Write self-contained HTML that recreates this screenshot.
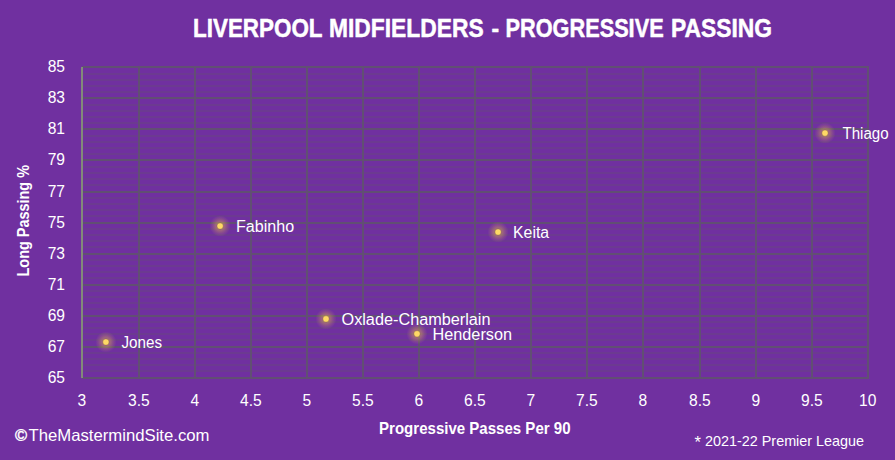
<!DOCTYPE html><html><head><meta charset="utf-8"><style>html,body{margin:0;padding:0;background:#7030A0;width:895px;height:460px;overflow:hidden}svg{display:block}text{font-family:"Liberation Sans",sans-serif;fill:#fff}</style></head><body>
<svg width="895" height="460" viewBox="0 0 895 460">
<defs><radialGradient id="g"><stop offset="0" stop-color="#d8a850" stop-opacity="0.6"/><stop offset="0.45" stop-color="#d0a058" stop-opacity="0.45"/><stop offset="0.75" stop-color="#c89060" stop-opacity="0.2"/><stop offset="1" stop-color="#c09070" stop-opacity="0"/></radialGradient></defs>
<rect width="895" height="460" fill="#7030A0"/>
<path d="M82 73h787v2h-787zM82 79h787v2h-787zM82 85h787v2h-787zM82 91h787v2h-787zM82 104h787v2h-787zM82 110h787v2h-787zM82 116h787v2h-787zM82 122h787v2h-787zM82 135h787v2h-787zM82 141h787v2h-787zM82 147h787v2h-787zM82 153h787v2h-787zM82 166h787v2h-787zM82 172h787v2h-787zM82 178h787v2h-787zM82 184h787v2h-787zM82 197h787v2h-787zM82 203h787v2h-787zM82 209h787v2h-787zM82 215h787v2h-787zM82 228h787v2h-787zM82 234h787v2h-787zM82 240h787v2h-787zM82 246h787v2h-787zM82 259h787v2h-787zM82 265h787v2h-787zM82 271h787v2h-787zM82 277h787v2h-787zM82 290h787v2h-787zM82 296h787v2h-787zM82 302h787v2h-787zM82 308h787v2h-787zM82 321h787v2h-787zM82 327h787v2h-787zM82 333h787v2h-787zM82 339h787v2h-787zM82 352h787v2h-787zM82 358h787v2h-787zM82 364h787v2h-787zM82 370h787v2h-787z" fill="rgb(108,58,145)"/>
<path d="M82 66h787v2h-787zM82 97h787v2h-787zM82 128h787v2h-787zM82 159h787v2h-787zM82 191h787v2h-787zM82 222h787v2h-787zM82 253h787v2h-787zM82 284h787v2h-787zM82 315h787v2h-787zM82 346h787v2h-787zM82 377h787v2h-787zM138 66h2v313h-2zM194 66h2v313h-2zM250 66h2v313h-2zM306 66h2v313h-2zM362 66h2v313h-2zM418 66h2v313h-2zM474 66h2v313h-2zM530 66h2v313h-2zM586 66h2v313h-2zM642 66h2v313h-2zM699 66h2v313h-2zM755 66h2v313h-2zM811 66h2v313h-2zM867 66h2v313h-2z" fill="rgb(97,79,115)"/>
<rect x="81" y="67" width="2" height="311" fill="rgb(131,138,122)"/>
<text x="65" y="71.9" font-size="15.6" text-anchor="end">85</text>
<text x="65" y="102.9" font-size="15.6" text-anchor="end">83</text>
<text x="65" y="133.9" font-size="15.6" text-anchor="end">81</text>
<text x="65" y="164.9" font-size="15.6" text-anchor="end">79</text>
<text x="65" y="196.9" font-size="15.6" text-anchor="end">77</text>
<text x="65" y="227.9" font-size="15.6" text-anchor="end">75</text>
<text x="65" y="258.9" font-size="15.6" text-anchor="end">73</text>
<text x="65" y="289.9" font-size="15.6" text-anchor="end">71</text>
<text x="65" y="320.9" font-size="15.6" text-anchor="end">69</text>
<text x="65" y="351.9" font-size="15.6" text-anchor="end">67</text>
<text x="65" y="382.9" font-size="15.6" text-anchor="end">65</text>
<text x="81.8" y="405.8" font-size="15.6" text-anchor="middle">3</text>
<text x="138.8" y="405.8" font-size="15.6" text-anchor="middle">3.5</text>
<text x="194.8" y="405.8" font-size="15.6" text-anchor="middle">4</text>
<text x="250.8" y="405.8" font-size="15.6" text-anchor="middle">4.5</text>
<text x="306.8" y="405.8" font-size="15.6" text-anchor="middle">5</text>
<text x="362.8" y="405.8" font-size="15.6" text-anchor="middle">5.5</text>
<text x="418.8" y="405.8" font-size="15.6" text-anchor="middle">6</text>
<text x="474.8" y="405.8" font-size="15.6" text-anchor="middle">6.5</text>
<text x="530.8" y="405.8" font-size="15.6" text-anchor="middle">7</text>
<text x="586.8" y="405.8" font-size="15.6" text-anchor="middle">7.5</text>
<text x="642.8" y="405.8" font-size="15.6" text-anchor="middle">8</text>
<text x="699.8" y="405.8" font-size="15.6" text-anchor="middle">8.5</text>
<text x="755.8" y="405.8" font-size="15.6" text-anchor="middle">9</text>
<text x="811.8" y="405.8" font-size="15.6" text-anchor="middle">9.5</text>
<text x="867.8" y="405.8" font-size="15.6" text-anchor="middle">10</text>
<circle cx="105.9" cy="342" r="10.5" fill="url(#g)"/>
<circle cx="105.9" cy="342" r="3.1" fill="#ffd966" stroke="#7a6040" stroke-opacity="0.45" stroke-width="0.7"/>
<circle cx="220.1" cy="226" r="10.5" fill="url(#g)"/>
<circle cx="220.1" cy="226" r="3.1" fill="#ffd966" stroke="#7a6040" stroke-opacity="0.45" stroke-width="0.7"/>
<circle cx="326" cy="318.9" r="10.5" fill="url(#g)"/>
<circle cx="326" cy="318.9" r="3.1" fill="#ffd966" stroke="#7a6040" stroke-opacity="0.45" stroke-width="0.7"/>
<circle cx="417" cy="333.8" r="10.5" fill="url(#g)"/>
<circle cx="417" cy="333.8" r="3.1" fill="#ffd966" stroke="#7a6040" stroke-opacity="0.45" stroke-width="0.7"/>
<circle cx="498.05" cy="232" r="10.5" fill="url(#g)"/>
<circle cx="498.05" cy="232" r="3.1" fill="#ffd966" stroke="#7a6040" stroke-opacity="0.45" stroke-width="0.7"/>
<circle cx="825" cy="133.1" r="10.5" fill="url(#g)"/>
<circle cx="825" cy="133.1" r="3.1" fill="#ffd966" stroke="#7a6040" stroke-opacity="0.45" stroke-width="0.7"/>
<text x="193.04" y="36.8" font-size="25.5" font-weight="bold" stroke="#fff" stroke-width="0.5" textLength="129.54" lengthAdjust="spacingAndGlyphs">LIVERPOOL</text>
<text x="329.02" y="36.8" font-size="25.5" font-weight="bold" stroke="#fff" stroke-width="0.5" textLength="154.58" lengthAdjust="spacingAndGlyphs">MIDFIELDERS</text>
<text x="491.48" y="36.8" font-size="25.5" font-weight="bold" stroke="#fff" stroke-width="0.5" textLength="7.59" lengthAdjust="spacingAndGlyphs">-</text>
<text x="505.58" y="36.8" font-size="25.5" font-weight="bold" stroke="#fff" stroke-width="0.5" textLength="158.04" lengthAdjust="spacingAndGlyphs">PROGRESSIVE</text>
<text x="671.06" y="36.8" font-size="25.5" font-weight="bold" stroke="#fff" stroke-width="0.5" textLength="100.96" lengthAdjust="spacingAndGlyphs">PASSING</text>
<text x="121.46" y="347.9" font-size="16" textLength="40.52" lengthAdjust="spacingAndGlyphs">Jones</text>
<text x="236.04" y="231.8" font-size="16" textLength="58.04" lengthAdjust="spacingAndGlyphs">Fabinho</text>
<text x="341.5" y="325.3" font-size="16" textLength="149.01" lengthAdjust="spacingAndGlyphs">Oxlade-Chamberlain</text>
<text x="432.52" y="340.4" font-size="16" textLength="79.49" lengthAdjust="spacingAndGlyphs">Henderson</text>
<text x="513.06" y="237.9" font-size="16" textLength="36.04" lengthAdjust="spacingAndGlyphs">Keita</text>
<text x="842.46" y="138.7" font-size="16" textLength="46.08" lengthAdjust="spacingAndGlyphs">Thiago</text>
<text x="379.06" y="434" font-size="16.5" font-weight="bold" textLength="191.48" lengthAdjust="spacingAndGlyphs">Progressive Passes Per 90</text>
<text x="14.92" y="440.8" font-size="16.5" stroke="#fff" stroke-width="0.45" textLength="12.09" lengthAdjust="spacingAndGlyphs">©</text>
<text x="28.48" y="440.8" font-size="16.5" textLength="181.04" lengthAdjust="spacingAndGlyphs">TheMastermindSite.com</text>
<text x="694.44" y="447.5" font-size="17" textLength="6.47" lengthAdjust="spacingAndGlyphs">*</text>
<text x="705.02" y="445.9" font-size="14.2" textLength="159.03" lengthAdjust="spacingAndGlyphs">2021-22 Premier League</text>
<text transform="translate(28.6 276.5) rotate(-90)" x="0" y="0" font-size="16.5" font-weight="bold" textLength="111.5" lengthAdjust="spacingAndGlyphs">Long Passing %</text>
</svg></body></html>
